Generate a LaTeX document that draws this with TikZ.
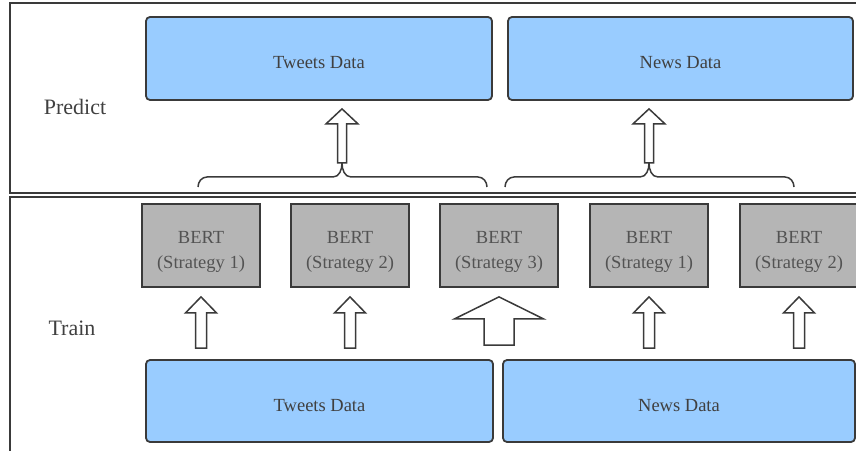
\documentclass[tikz,border=0pt]{standalone}
\usepackage{fontspec}
\setmainfont{Liberation Serif}
\usetikzlibrary{calc, positioning}
\definecolor{skyfill}{HTML}{99CCFF}
\definecolor{greyfill}{HTML}{B5B5B5}
\definecolor{edge}{HTML}{3A3A3A}
\definecolor{ink}{HTML}{404040}

% hollow upward block arrow: bottom point, tip point, half shaft, half head, head length
\newcommand{\blockup}[5]{%
  \draw[blockarrow] let \p1=(#1), \p2=(#2) in
    (\x1-#3,\y1) -- (\x1-#3,\y2-#5) -- (\x1-#4,\y2-#5) -- (\x1,\y2)
    -- (\x1+#4,\y2-#5) -- (\x1+#3,\y2-#5) -- (\x1+#3,\y1) -- cycle;}
% taller first line so the two lines sit a little low in the box
\newcommand{\topstrut}{\rule{0pt}{25.5pt}}

\begin{document}
\begin{tikzpicture}[
    x=1pt, y=1pt,
    panel/.style={draw=edge, line width=2pt},
    databox/.style={rectangle, draw=edge, line width=1.8pt, fill=skyfill, rounded corners=4pt, minimum height=83pt, inner sep=0pt, text height=21pt, text depth=0pt, text=ink, font=\fontsize{18.5}{22}\selectfont},
    bertbox/.style={rectangle, draw=edge, line width=1.8pt, fill=greyfill, minimum width=118pt, minimum height=83pt, inner sep=0pt, align=center, text=ink!90, font=\fontsize{18.5}{25}\selectfont},
    phase/.style={text=ink, font=\fontsize{22}{26}\selectfont},
    blockarrow/.style={draw=edge, line width=1.5pt, fill=white, line join=miter},
    bracket/.style={draw=edge, line width=1.5pt}
]
\useasboundingbox (0,0) rectangle (856,450);

% the two phases
\draw[panel] (10,447) rectangle (870,257);
\draw[panel] (10,253) rectangle (870,-10);
\node[phase] (predict) at (75,343) {Predict};
\node[phase] (train) at (72,122) {Train};

% data for prediction
\node[databox, minimum width=346pt] (tw2) at (319,391.5) {Tweets Data};
\node[databox, minimum width=345pt] (nw2) at (680.5,391.5) {News Data};

% models
\node[bertbox] (b1) at (201,204.5) {\topstrut BERT\\(Strategy 1)};
\node[bertbox] (b2) at (350,204.5) {\topstrut BERT\\(Strategy 2)};
\node[bertbox] (b3) at (499,204.5) {\topstrut BERT\\(Strategy 3)};
\node[bertbox] (b4) at (649,204.5) {\topstrut BERT\\(Strategy 1)};
\node[bertbox] (b5) at (799,204.5) {\topstrut BERT\\(Strategy 2)};

% data for training
\node[databox, minimum width=347pt, minimum height=82pt] (tw1) at (319.5,49) {Tweets Data};
\node[databox, minimum width=352pt, minimum height=82pt] (nw1) at (679,49) {News Data};

% braces grouping the models
\coordinate (tipL) at (342,287);
\coordinate (tipR) at (649,287);
\draw[bracket] (198,263) to[out=90,in=180] (207,273) -- (333,273) to[out=0,in=-90] (tipL)
    to[out=-90,in=180] (351,273) -- (478,273) to[out=0,in=90] (487,263);
\draw[bracket] (505,263) to[out=90,in=180] (514,273) -- (640,273) to[out=0,in=-90] (tipR)
    to[out=-90,in=180] (658,273) -- (785,273) to[out=0,in=90] (794,263);

% arrows
\blockup{$(b1.south |- tw1.north)+(0,11)$}{$(b1.south)+(0,-9)$}{5.5pt}{15.5pt}{16pt}
\blockup{$(b2.south |- tw1.north)+(0,11)$}{$(b2.south)+(0,-9)$}{5.5pt}{15.5pt}{16pt}
\blockup{$(b3.south |- tw1.north)+(0,14)$}{$(b3.south)+(0,-9)$}{15pt}{44.5pt}{22pt}
\blockup{$(b4.south |- nw1.north)+(0,11)$}{$(b4.south)+(0,-9)$}{5.5pt}{15.5pt}{16pt}
\blockup{$(b5.south |- nw1.north)+(0,11)$}{$(b5.south)+(0,-9)$}{5.5pt}{15.5pt}{16pt}
\blockup{tipL}{$(tipL |- tw2.south)+(0,-8)$}{4.5pt}{16pt}{15pt}
\blockup{tipR}{$(tipR |- nw2.south)+(0,-8)$}{4.5pt}{16pt}{15pt}

\end{tikzpicture}
\end{document}
